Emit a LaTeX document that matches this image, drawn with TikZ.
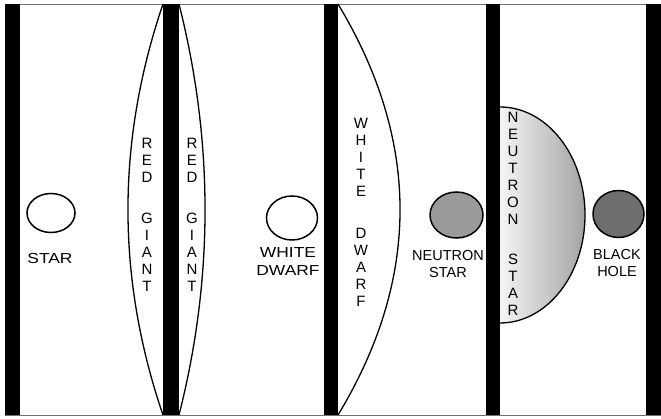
\documentclass[tikz,border=0pt]{standalone}
\usepackage{fontspec}
\setmainfont{Liberation Sans}
\newfontfamily\widefont[FakeStretch=1.2]{Liberation Sans}
\usetikzlibrary{shapes.geometric}
\definecolor{nsgray}{HTML}{9A9A9A}
\definecolor{bhgray}{HTML}{6E6E6E}
\definecolor{framegray}{HTML}{707070}

\begin{document}
\begin{tikzpicture}[x=1pt, y=-1pt,
        orb/.style={draw, ellipse, line width=1.5pt, inner sep=0pt},
        rim/.style={draw, line width=1.3pt},
        lbl/.style={align=center, inner sep=0pt, font=\fontsize{14.5}{17.5}\selectfont},
        wlbl/.style={lbl, font=\widefont\fontsize{14.5}{17.5}\selectfont},
        vlbl/.style={lbl, font=\fontsize{15}{17}\selectfont}]
      \useasboundingbox (0,0) rectangle (661,419);
      \fill[white] (0,0) rectangle (661,419);
      \draw[framegray, line width=0.8pt] (5,4) rectangle (661,415);
      % red giant lens and white dwarf bulge
      \draw[rim] (163,4) .. controls (116.3,141.3) and (116.3,278.3) .. (163,415);
      \draw[rim] (179,4) .. controls (213.7,141.3) and (213.7,278.3) .. (179,415);
      \draw[rim] (338,4) .. controls (420.7,141.3) and (420.7,278.3) .. (338,415);
      % neutron star half disk
      \shade[left color=black!4, right color=black!36]
        (500,107) arc[start angle=-90, end angle=90, x radius=85, y radius=108] -- cycle;
      \draw[rim] (500,107) arc[start angle=-90, end angle=90, x radius=85, y radius=108];
      % the black bars
      \foreach \x/\w in {5/15, 163/16, 324/14, 486/14, 646/15}
        \fill (\x,4) rectangle ++(\w,411);
      % bodies
      \node[orb, minimum width=48, minimum height=39] (star) at (51,213) {};
      \node[orb, minimum width=51, minimum height=44] (wd) at (292,218) {};
      \node[orb, fill=nsgray, minimum width=53, minimum height=46] (ns) at (456.5,215) {};
      \node[orb, fill=bhgray, minimum width=51, minimum height=47] (bh) at (618.5,214) {};
      \node[wlbl] (starlbl) at (50,259) {STAR};
      \node[wlbl] (wdlbl) at (288,261.5) {WHITE\\DWARF};
      \node[lbl] (nslbl) at (448,264) {NEUTRON\\STAR};
      \node[lbl] (bhlbl) at (617,263) {BLACK\\HOLE};
      % stacked words
      \node[vlbl] (rgleft) at (147,214.5) {R\\E\\D\\[24pt]G\\I\\A\\N\\T};
      \node[vlbl] (rgright) at (192,214.5) {R\\E\\D\\[24pt]G\\I\\A\\N\\T};
      \node[vlbl] (wdtext) at (361,212.5) {W\\H\\I\\T\\E\\[25pt]D\\W\\A\\R\\F};
      \node[vlbl] (nstext) at (513,213.5) {N\\E\\U\\T\\R\\O\\N\\[23pt]S\\T\\A\\R};
    \end{tikzpicture}
\end{document}
